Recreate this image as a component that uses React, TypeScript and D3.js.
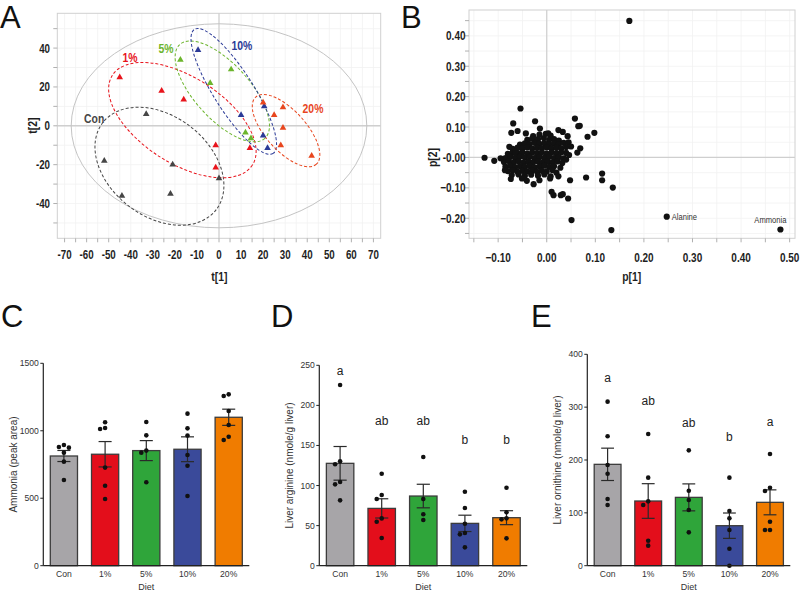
import React from 'react';
import * as d3 from 'd3';

const groups = ['Con', '1%', '5%', '10%', '20%'];

// ---------- Panel A: PCA scores t[1], t[2] ----------
const scoresCon: [number, number][] = [[-33, 6], [-52, -18], [-44, -36], [-21, -20], [-22, -35], [0, -27]];
const scores1: [number, number][] = [[-45, 25], [-26, 18], [-16, 13.5], [-1.5, -10], [-1.5, -21.5], [14, -11.5]];
const scores5: [number, number][] = [[-17.5, 34], [5.5, 29], [-4, 22], [12, -3.5], [14.5, -6.5]];
const scores10: [number, number][] = [[-9.5, 39], [10, 5.5], [20.5, 10], [20, -5], [22, -11.5]];
const scores20: [number, number][] = [[20, 12], [25, 5.5], [29, 9.5], [29, -1], [28, -10], [42, -15.5]];
const scoreSets = [scoresCon, scores1, scores5, scores10, scores20];
// confidence ellipses: centre (t1,t2), semi-axes in t[1] units, tilt in degrees
const ellCenter: [number, number][] = [[-27, -20.8], [-16.6, 2.9], [1.5, 17.7], [6.7, 17.7], [30.4, -2.5]];
const ellAxes: [number, number][] = [[32.4, 22.8], [37.7, 19.5], [28.7, 12.5], [33.3, 9.0], [20.5, 9.1]];
const ellTilt = [37.4, 32.7, 47.8, 57.6, 47.9];
const groupLabelAt: [number, number][] = [[-56.6, 4], [-40.3, 35.3], [-24, 39.9], [10.4, 41.5], [42.6, 9.1]];
const hotelling: [number, number] = [67, 52.5];
const tTicksX = [-70, -60, -50, -40, -30, -20, -10, 0, 10, 20, 30, 40, 50, 60, 70];
const tTicksY = [-40, -20, 0, 20, 40];
const colorsA = ['#454545', '#e8141c', '#6cb52d', '#2b3a97', '#e8461e'];

// ---------- Panel B: loadings p[1], p[2] ----------
const loadingsCore: [number, number][] = [
  [-0.015, 0.075], [-0.002, 0.078], [0.008, 0.072], [-0.028, 0.07],
  [-0.04, 0.058], [-0.03, 0.062], [-0.018, 0.06], [-0.006, 0.064], [0.005, 0.058], [0.015, 0.06], [0.025, 0.055],
  [-0.055, 0.042], [-0.045, 0.046], [-0.035, 0.044], [-0.025, 0.048], [-0.015, 0.045], [-0.005, 0.047], [0.005, 0.043], [0.015, 0.046], [0.025, 0.044], [0.035, 0.048], [0.045, 0.05],
  [-0.07, 0.028], [-0.06, 0.032], [-0.05, 0.03], [-0.04, 0.033], [-0.03, 0.029], [-0.02, 0.032], [-0.01, 0.03], [0.0, 0.033], [0.01, 0.029], [0.02, 0.032], [0.03, 0.03], [0.04, 0.034], [0.05, 0.036],
  [-0.08, 0.012], [-0.07, 0.016], [-0.06, 0.014], [-0.05, 0.017], [-0.04, 0.013], [-0.03, 0.016], [-0.02, 0.014], [-0.01, 0.017], [0.0, 0.013], [0.01, 0.016], [0.02, 0.014], [0.03, 0.017], [0.04, 0.015],
  [-0.085, -0.002], [-0.075, 0.002], [-0.065, -0.001], [-0.055, 0.003], [-0.045, 0.0], [-0.035, 0.002], [-0.025, -0.002], [-0.015, 0.001], [-0.005, -0.001], [0.005, 0.002], [0.015, -0.002], [0.025, 0.001], [0.035, -0.003],
  [-0.088, -0.015], [-0.078, -0.012], [-0.068, -0.016], [-0.058, -0.013], [-0.048, -0.017], [-0.038, -0.014], [-0.028, -0.016], [-0.018, -0.013], [-0.008, -0.017], [0.002, -0.014], [0.012, -0.016], [0.022, -0.013], [0.032, -0.018],
  [-0.085, -0.03], [-0.075, -0.028], [-0.065, -0.032], [-0.055, -0.029], [-0.045, -0.031], [-0.035, -0.028], [-0.025, -0.033], [-0.015, -0.03], [-0.005, -0.027], [0.005, -0.031], [0.015, -0.029], [0.028, -0.034],
  [-0.08, -0.045], [-0.07, -0.042], [-0.06, -0.047], [-0.05, -0.044], [-0.04, -0.046], [-0.03, -0.043], [-0.02, -0.047], [-0.01, -0.044], [0.0, -0.046], [0.012, -0.042], [0.02, -0.05],
  [-0.072, -0.058], [-0.058, -0.056], [-0.045, -0.06], [-0.032, -0.057], [-0.018, -0.06], [-0.005, -0.056], [0.008, -0.062],
];
const loadingsOuter: [number, number][] = [
  [0.17, 0.449], [-0.128, -0.001], [-0.108, -0.011], [-0.095, -0.003], [-0.054, 0.161], [-0.069, 0.112], [-0.024, 0.119],
  [-0.073, 0.081], [-0.06, 0.087], [-0.043, 0.079], [-0.014, 0.095], [0.003, 0.079], [0.024, 0.09], [0.033, 0.084],
  [0.043, 0.07], [0.058, 0.128], [0.065, 0.103], [0.068, 0.104], [0.084, 0.068], [0.098, 0.081], [0.069, 0.03], [0.063, 0.016],
  [-0.077, 0.035], [-0.065, 0.018], [-0.086, -0.042], [-0.074, -0.071], [-0.051, -0.069], [-0.041, -0.077], [-0.027, -0.088],
  [-0.015, -0.075], [0.007, -0.069], [0.024, -0.062], [0.048, -0.075], [0.081, -0.066], [0.114, -0.053], [0.114, -0.075],
  [0.136, -0.099], [0.01, -0.113], [0.014, -0.124], [0.029, -0.124], [0.033, -0.121], [0.044, -0.135], [0.051, -0.206],
  [0.133, -0.239], [0.04, -0.007], [0.046, 0.008],
];
const namedLoadings: { name: string; p: [number, number] }[] = [
  { name: 'Alanine', p: [0.247, -0.195] },
  { name: 'Ammonia', p: [0.481, -0.237] },
];
const pTicksX = [-0.1, 0, 0.1, 0.2, 0.3, 0.4, 0.5];
const pTicksY = [-0.2, -0.1, 0, 0.1, 0.2, 0.3, 0.4];

// ---------- Panels C, D, E ----------
const barColors = ['#a7a5a8', '#e30e1b', '#2fa53a', '#3a4a9a', '#f07c00'];

const ammoniaMean = [813, 826, 853, 863, 1100];
const ammoniaSem = [41, 94, 74, 92, 60];
const ammoniaDots = [
  [895, 880, 875, 838, 771, 635],
  [1063, 1021, 1013, 727, 593, 494],
  [1065, 966, 853, 838, 618],
  [1127, 1018, 964, 820, 741, 516],
  [1270, 1258, 1147, 1043, 956, 932],
];

const arginineMean = [127.7, 71.5, 86.9, 52.8, 59.9];
const arginineSem = [21, 12, 14.7, 10.2, 8.7];
const arginineDots = [
  [225.5, 130.2, 126.5, 104.4, 101.5, 81.5],
  [114.8, 88.2, 83.2, 59, 54.9, 34.5],
  [135.6, 83.2, 64.1, 57],
  [92.3, 72, 52.4, 40.8, 39.1, 22.9],
  [97.3, 66.6, 59.1, 57.8, 34.1],
];
const arginineLetters = ['a', 'ab', 'ab', 'b', 'b'];
const arginineLetterAt = [243, 180.5, 180.5, 156.8, 156.8];

const ornithineMean = [191.8, 122.4, 129.3, 75.7, 119.9];
const ornithineSem = [30.6, 32.8, 25.5, 24, 23.6];
const ornithineDots = [
  [310.4, 244.8, 190.5, 174.1, 126.2, 114.8],
  [249.2, 166.6, 121.8, 114.8, 47.3, 37.9],
  [218.3, 141.9, 124.3, 105.4, 63.1],
  [166.6, 103.5, 89.6, 67.5, 32.2, 0],
  [211.4, 147.6, 141.3, 83.3, 67.5, 67.5],
];
const ornithineLetters = ['a', 'ab', 'ab', 'b', 'a'];
const ornithineLetterAt = [355.7, 311.6, 270.6, 244, 271.3];

const SANS = '"Liberation Sans", Arial, Helvetica, sans-serif';

function CText(props: {
  x: number; y: number; sx?: number; anchor?: string; size: number; weight?: string | number;
  fill?: string; rotate?: number; children: React.ReactNode;
}) {
  const { x, y, sx = 0.8, anchor = 'middle', size, weight = 'bold', fill = '#1e1e1e', rotate, children } = props;
  return (
    <text
      transform={`translate(${x},${y})${rotate ? ` rotate(${rotate})` : ''} scale(${sx},1)`}
      textAnchor={anchor}
      fontSize={size}
      fontWeight={weight}
      fill={fill}
      fontFamily={SANS}
    >
      {children}
    </text>
  );
}

function PanelA() {
  const x = d3.scaleLinear().domain([-73.3, 73.3]).range([57.3, 380.7]);
  const y = d3.scaleLinear().domain([-57.9, 57.9]).range([238.3, 13.3]);
  const tri = d3.symbol().type(d3.symbolTriangle).size(19)() as string;
  const gridX = d3.range(-70, 71, 5);
  const gridY = d3.range(-50, 51, 10);
  const [x0, x1] = x.range();
  const [y0, y1] = y.range();
  const fmt = (v: number) => (v < 0 ? '-' + Math.abs(v) : String(v));
  return (
    <g>
      {gridX.map((v) => (
        <line key={'gx' + v} x1={x(v)} x2={x(v)} y1={y1} y2={y0} stroke="#f1f1f1" strokeWidth={0.8} />
      ))}
      {gridY.map((v) => (
        <line key={'gy' + v} x1={x0} x2={x1} y1={y(v)} y2={y(v)} stroke="#f1f1f1" strokeWidth={0.8} />
      ))}
      <line x1={x(0)} x2={x(0)} y1={y1} y2={y0} stroke="#cfcfcf" strokeWidth={1.2} />
      <line x1={x0} x2={x1} y1={y(0)} y2={y(0)} stroke="#cfcfcf" strokeWidth={1.6} />
      <rect x={x0} y={y1} width={x1 - x0} height={y0 - y1} fill="none" stroke="#d0d0d0" strokeWidth={1} />
      {gridX.map((v) => (
        <line key={'tx' + v} x1={x(v)} x2={x(v)} y1={y0} y2={y0 + 4} stroke="#b0b0b0" strokeWidth={1} />
      ))}
      {gridY.map((v) => (
        <line key={'ty' + v} x1={x0 - 4} x2={x0} y1={y(v)} y2={y(v)} stroke="#b0b0b0" strokeWidth={1} />
      ))}
      <ellipse
        cx={x(0)} cy={y(0)}
        rx={x(hotelling[0]) - x(0)} ry={y(0) - y(hotelling[1])}
        fill="none" stroke="#c4c4c4" strokeWidth={1}
      />
      {ellCenter.map((c, i) => (
        <ellipse
          key={'e' + i}
          cx={0} cy={0}
          rx={x(ellAxes[i][0]) - x(0)} ry={x(ellAxes[i][1]) - x(0)}
          transform={`translate(${x(c[0])},${y(c[1])}) rotate(${ellTilt[i]})`}
          fill="none" stroke={colorsA[i]} strokeWidth={1} strokeDasharray="3,2"
        />
      ))}
      {scoreSets.map((set, i) =>
        set.map((p, j) => (
          <path key={'s' + i + '-' + j} d={tri} transform={`translate(${x(p[0])},${y(p[1])})`} fill={colorsA[i]} />
        ))
      )}
      {groupLabelAt.map((p, i) => (
        <CText key={'gl' + i} x={x(p[0])} y={y(p[1]) + 4.5} size={13} weight={600} fill={colorsA[i]}>
          {groups[i]}
        </CText>
      ))}
      {tTicksX.map((v) => (
        <CText key={'lx' + v} x={x(v)} y={258.8} size={12.5} sx={0.78}>{fmt(v)}</CText>
      ))}
      {tTicksY.map((v) => (
        <CText key={'ly' + v} x={50} y={y(v) + 4.5} size={12.5} sx={0.78} anchor="end">{fmt(v)}</CText>
      ))}
      <CText x={219.3} y={280.5} size={13}>t[1]</CText>
      <CText x={37} y={125.7} size={13} rotate={-90}>t[2]</CText>
    </g>
  );
}

function PanelB() {
  const x = d3.scaleLinear().domain([-0.16, 0.511]).range([469, 795]);
  const y = d3.scaleLinear().domain([-0.266, 0.485]).range([238.3, 10]);
  const [x0, x1] = x.range();
  const [y0, y1] = y.range();
  const gridX = d3.range(-0.15, 0.51, 0.05);
  const gridY = d3.range(-0.25, 0.48, 0.05);
  const fmt = (v: number) => (Math.abs(v) < 1e-9 ? '0.00' : d3.format('.2f')(v));
  const all = [...loadingsCore, ...loadingsOuter, ...namedLoadings.map((d) => d.p)];
  return (
    <g>
      {gridX.map((v, i) => (
        <line key={'gx' + i} x1={x(v)} x2={x(v)} y1={y1} y2={y0} stroke="#f1f1f1" strokeWidth={0.8} />
      ))}
      {gridY.map((v, i) => (
        <line key={'gy' + i} x1={x0} x2={x1} y1={y(v)} y2={y(v)} stroke="#f1f1f1" strokeWidth={0.8} />
      ))}
      <line x1={x(0)} x2={x(0)} y1={y1} y2={y0} stroke="#cfcfcf" strokeWidth={1.2} />
      <line x1={x0} x2={x1} y1={y(0)} y2={y(0)} stroke="#cfcfcf" strokeWidth={1.2} />
      <rect x={x0} y={y1} width={x1 - x0} height={y0 - y1} fill="none" stroke="#d0d0d0" strokeWidth={1} />
      {gridX.map((v, i) => (
        <line key={'tx' + i} x1={x(v)} x2={x(v)} y1={y0} y2={y0 + 4} stroke="#b0b0b0" strokeWidth={1} />
      ))}
      {gridY.map((v, i) => (
        <line key={'ty' + i} x1={x0 - 4} x2={x0} y1={y(v)} y2={y(v)} stroke="#b0b0b0" strokeWidth={1} />
      ))}
      {all.map((p, i) => (
        <circle key={'p' + i} cx={x(p[0])} cy={y(p[1])} r={3.1} fill="#111" />
      ))}
      {namedLoadings.map((d) => (
        <CText
          key={d.name}
          x={d.name === 'Alanine' ? x(d.p[0]) + 5 : x(d.p[0]) + 6}
          y={d.name === 'Alanine' ? y(d.p[1]) + 3.5 : y(d.p[1]) - 6.5}
          size={9.5}
          weight="normal"
          fill="#333"
          anchor={d.name === 'Alanine' ? 'start' : 'end'}
        >
          {d.name}
        </CText>
      ))}
      {pTicksX.map((v) => (
        <CText key={'lx' + v} x={x(v)} y={262} size={12.5} sx={0.8}>{fmt(v)}</CText>
      ))}
      {pTicksY.map((v) => (
        <CText key={'ly' + v} x={465.5} y={y(v) + 4.5} size={12.5} sx={0.8} anchor="end">
          {v === 0 ? '-0.00' : fmt(v)}
        </CText>
      ))}
      <CText x={631.7} y={281} size={13}>p[1]</CText>
      <CText x={436.5} y={157.5} size={13} rotate={-90}>p[2]</CText>
    </g>
  );
}

function beeswarm(ys: number[], step: number, minDist: number) {
  const placed: { dx: number; y: number }[] = [];
  const order = [0, -1, 1, -2, 2, -3, 3];
  ys.forEach((yy) => {
    for (const k of order) {
      const dx = k * step;
      const ok = placed.every((p) => Math.hypot(p.dx - dx, p.y - yy) >= minDist);
      if (ok) {
        placed.push({ dx, y: yy });
        return;
      }
    }
    placed.push({ dx: 0, y: yy });
  });
  return placed;
}

function BarPanel(props: {
  axisX: number; span: number; yMax: number; yTop: number; tickStep: number;
  means: number[]; sems: number[]; dots: number[][]; title: string;
  letters?: string[]; letterAt?: number[];
}) {
  const { axisX, span, yMax, yTop, tickStep, means, sems, dots, title, letters, letterAt } = props;
  const x = d3.scaleBand().domain(groups).range([axisX, axisX + span]).paddingInner(0.34).paddingOuter(0.17);
  const y = d3.scaleLinear().domain([0, yMax]).range([565.7, yTop]);
  const bw = x.bandwidth();
  const ticks = d3.range(0, yMax + 0.001, tickStep);
  const cap = bw * 0.24;
  return (
    <g fontFamily={SANS}>
      {groups.map((g, i) => {
        const cx = (x(g) as number) + bw / 2;
        return (
          <g key={g}>
            <rect x={x(g)} y={y(means[i])} width={bw} height={y(0) - y(means[i])} fill={barColors[i]} stroke="#3c3c3c" strokeWidth={1.3} />
            <line x1={cx} x2={cx} y1={y(means[i] + sems[i])} y2={y(means[i] - sems[i])} stroke="#2a2a2a" strokeWidth={1.2} />
            <line x1={cx - cap} x2={cx + cap} y1={y(means[i] + sems[i])} y2={y(means[i] + sems[i])} stroke="#2a2a2a" strokeWidth={1.2} />
            <line x1={cx - cap} x2={cx + cap} y1={y(means[i] - sems[i])} y2={y(means[i] - sems[i])} stroke="#2a2a2a" strokeWidth={1.2} />
            {beeswarm(dots[i].map((v) => y(v)), 5, 4.6).map((p, j) => (
              <circle key={j} cx={cx + p.dx} cy={p.y} r={2.3} fill="#111" />
            ))}
            <text x={cx} y={577} textAnchor="middle" fontSize={8.6} fill="#333">{g}</text>
            {letters && letterAt && (
              <text x={cx} y={y(letterAt[i]) + 4} textAnchor="middle" fontSize={12} fill="#222">{letters[i]}</text>
            )}
          </g>
        );
      })}
      <line x1={axisX} x2={axisX} y1={y(0)} y2={y(yMax)} stroke="#222" strokeWidth={1.2} />
      <line x1={axisX} x2={axisX + span} y1={y(0)} y2={y(0)} stroke="#222" strokeWidth={1.2} />
      {ticks.map((t) => (
        <g key={t}>
          <line x1={axisX - 3} x2={axisX} y1={y(t)} y2={y(t)} stroke="#222" strokeWidth={1} />
          <text x={axisX - 4.5} y={y(t) + 3} textAnchor="end" fontSize={8.6} fill="#333">{t}</text>
        </g>
      ))}
      <text x={axisX + span / 2} y={590} textAnchor="middle" fontSize={9} fill="#333">Diet</text>
      <text
        transform={`translate(${axisX - 26.5},${(y(0) + y(yMax)) / 2}) rotate(-90)`}
        textAnchor="middle" fontSize={10} fill="#333"
      >
        {title}
      </text>
    </g>
  );
}

export default function App() {
  const letterStyle = { fontFamily: SANS, fontSize: 31, fill: '#111' } as const;
  return (
    <svg
      width={800}
      height={591}
      viewBox="0 0 800 591"
      style={{ position: 'absolute', left: 0, top: 0, background: '#fff' }}
    >
      <rect x={0} y={0} width={800} height={591} fill="#fff" />
      <PanelA />
      <PanelB />
      <BarPanel axisX={43.3} span={206} yMax={1500} yTop={363.3} tickStep={500}
        means={ammoniaMean} sems={ammoniaSem} dots={ammoniaDots} title="Ammonia (peak area)" />
      <BarPanel axisX={319.3} span={208} yMax={250} yTop={365.3} tickStep={50}
        means={arginineMean} sems={arginineSem} dots={arginineDots} title="Liver arginine (nmole/g liver)"
        letters={arginineLetters} letterAt={arginineLetterAt} />
      <BarPanel axisX={587.3} span={203} yMax={400} yTop={354.3} tickStep={100}
        means={ornithineMean} sems={ornithineSem} dots={ornithineDots} title="Liver ornithine (nmole/g liver)"
        letters={ornithineLetters} letterAt={ornithineLetterAt} />
      <text x={0} y={28} {...letterStyle}>A</text>
      <text x={401} y={28} {...letterStyle}>B</text>
      <text x={1} y={327} {...letterStyle}>C</text>
      <text x={271} y={327} {...letterStyle}>D</text>
      <text x={531} y={327} {...letterStyle}>E</text>
    </svg>
  );
}
